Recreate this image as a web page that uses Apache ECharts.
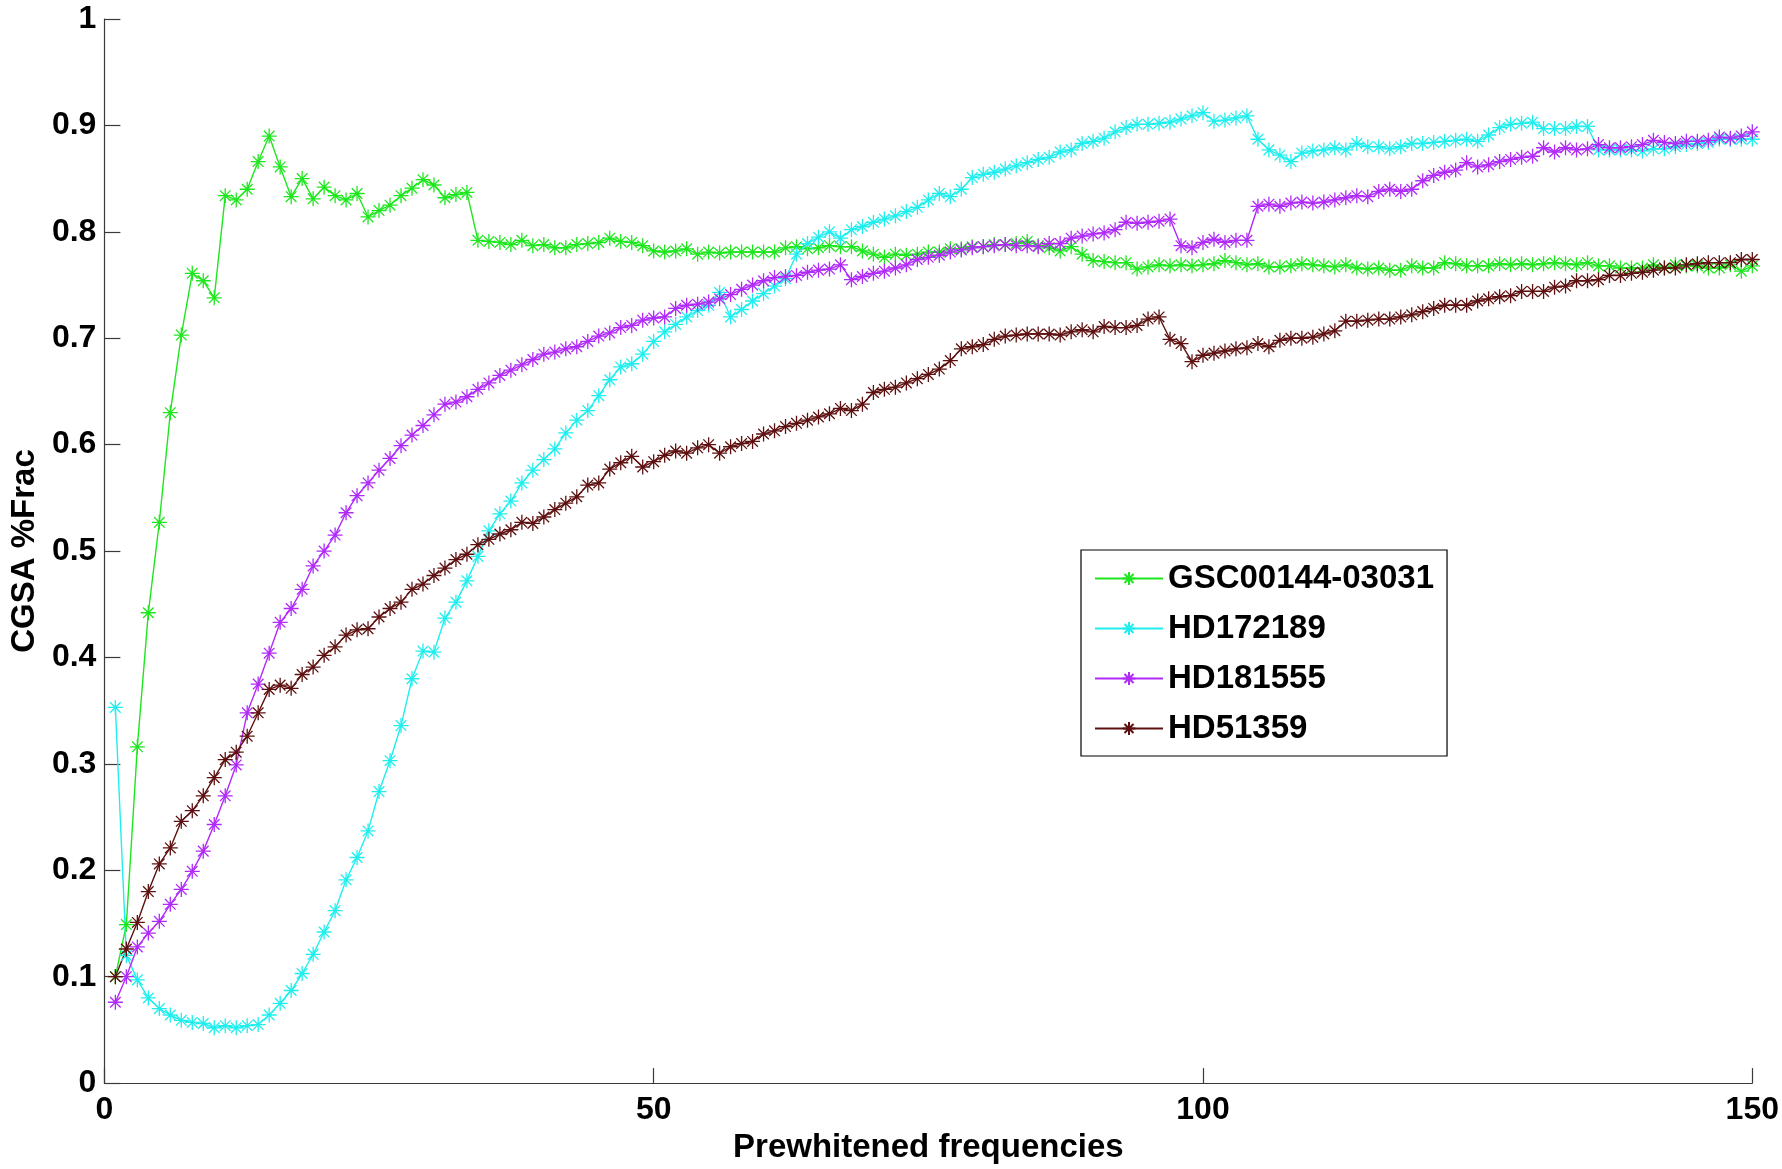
<!DOCTYPE html>
<html>
<head>
<meta charset="utf-8">
<title>CGSA %Frac</title>
<script src="https://cdn.jsdelivr.net/npm/echarts@6/dist/echarts.min.js"></script>
<style>
  html, body { margin: 0; padding: 0; background: #fff; }
  #chart { width: 1782px; height: 1169px; }
</style>
</head>
<body>
<div id="chart"></div>
<script>
// series names as shown in the legend
const names = ['GSC00144-03031', 'HD172189', 'HD181555', 'HD51359'];
const colors = ['#1ee61e', '#20eeee', '#b02af8', '#5e1010'];

// CGSA %Frac per prewhitened frequency (1..150)
const gsc = [
  0.100, 0.149, 0.316, 0.442, 0.527, 0.630, 0.703, 0.761, 0.754, 0.738,
  0.834, 0.830, 0.840, 0.866, 0.890, 0.861, 0.833, 0.850, 0.831, 0.842,
  0.834, 0.830, 0.836, 0.814, 0.820, 0.825, 0.834, 0.841, 0.849, 0.844,
  0.832, 0.835, 0.837, 0.792, 0.791, 0.790, 0.788, 0.792, 0.787, 0.788,
  0.785, 0.785, 0.788, 0.789, 0.790, 0.794, 0.791, 0.790, 0.787, 0.782,
  0.781, 0.782, 0.784, 0.779, 0.781, 0.780, 0.781, 0.781, 0.781, 0.781,
  0.781, 0.785, 0.786, 0.784, 0.785, 0.787, 0.786, 0.786, 0.782, 0.779,
  0.776, 0.779, 0.778, 0.779, 0.781, 0.781, 0.784, 0.784, 0.786, 0.786,
  0.788, 0.788, 0.789, 0.791, 0.787, 0.785, 0.782, 0.786, 0.779, 0.773,
  0.772, 0.771, 0.771, 0.765, 0.767, 0.769, 0.768, 0.769, 0.768, 0.769,
  0.770, 0.773, 0.771, 0.769, 0.770, 0.767, 0.767, 0.768, 0.770, 0.769,
  0.768, 0.767, 0.769, 0.766, 0.765, 0.766, 0.764, 0.764, 0.768, 0.766,
  0.766, 0.771, 0.770, 0.768, 0.768, 0.768, 0.770, 0.769, 0.770, 0.769,
  0.770, 0.771, 0.770, 0.769, 0.771, 0.768, 0.768, 0.766, 0.766, 0.766,
  0.769, 0.766, 0.769, 0.768, 0.768, 0.766, 0.766, 0.769, 0.763, 0.768
];

const hd172189 = [
  0.353, 0.120, 0.097, 0.080, 0.070, 0.064, 0.059, 0.057, 0.056, 0.052,
  0.054, 0.052, 0.054, 0.055, 0.064, 0.075, 0.087, 0.103, 0.121, 0.142,
  0.162, 0.191, 0.212, 0.237, 0.274, 0.303, 0.336, 0.380, 0.406, 0.405,
  0.437, 0.452, 0.472, 0.495, 0.519, 0.535, 0.547, 0.564, 0.576, 0.586,
  0.596, 0.611, 0.623, 0.632, 0.646, 0.661, 0.673, 0.676, 0.685, 0.697,
  0.706, 0.713, 0.720, 0.726, 0.731, 0.743, 0.720, 0.727, 0.735, 0.742,
  0.749, 0.756, 0.779, 0.789, 0.795, 0.800, 0.794, 0.802, 0.805, 0.809,
  0.812, 0.815, 0.819, 0.823, 0.830, 0.836, 0.833, 0.840, 0.851, 0.854,
  0.856, 0.859, 0.862, 0.865, 0.868, 0.870, 0.875, 0.877, 0.883, 0.885,
  0.888, 0.894, 0.898, 0.901, 0.901, 0.902, 0.903, 0.906, 0.909, 0.912,
  0.904, 0.905, 0.907, 0.909, 0.887, 0.877, 0.872, 0.866, 0.874, 0.876,
  0.877, 0.879, 0.877, 0.883, 0.880, 0.880, 0.878, 0.880, 0.883, 0.883,
  0.884, 0.885, 0.886, 0.887, 0.885, 0.891, 0.898, 0.901, 0.902, 0.903,
  0.897, 0.897, 0.897, 0.899, 0.899, 0.877, 0.877, 0.877, 0.877, 0.876,
  0.878, 0.878, 0.880, 0.882, 0.883, 0.884, 0.887, 0.887, 0.887, 0.887
];

const hd181555 = [
  0.076, 0.100, 0.128, 0.141, 0.152, 0.168, 0.182, 0.199, 0.218, 0.243,
  0.270, 0.299, 0.348, 0.375, 0.404, 0.433, 0.446, 0.464, 0.486, 0.500,
  0.515, 0.536, 0.552, 0.564, 0.576, 0.587, 0.599, 0.609, 0.618, 0.628,
  0.638, 0.640, 0.645, 0.652, 0.658, 0.665, 0.670, 0.675, 0.680, 0.685,
  0.687, 0.690, 0.692, 0.697, 0.702, 0.705, 0.710, 0.712, 0.717, 0.719,
  0.720, 0.728, 0.731, 0.732, 0.734, 0.737, 0.741, 0.746, 0.750, 0.754,
  0.757, 0.758, 0.759, 0.762, 0.764, 0.765, 0.769, 0.755, 0.758, 0.761,
  0.763, 0.766, 0.769, 0.774, 0.776, 0.778, 0.781, 0.783, 0.785, 0.786,
  0.787, 0.788, 0.787, 0.787, 0.786, 0.789, 0.789, 0.794, 0.796, 0.798,
  0.799, 0.802, 0.809, 0.808, 0.809, 0.810, 0.812, 0.787, 0.785, 0.790,
  0.793, 0.790, 0.792, 0.792, 0.824, 0.826, 0.824, 0.827, 0.828, 0.827,
  0.828, 0.830, 0.832, 0.834, 0.833, 0.838, 0.840, 0.838, 0.840, 0.848,
  0.853, 0.856, 0.858, 0.865, 0.861, 0.863, 0.866, 0.868, 0.870, 0.871,
  0.879, 0.875, 0.879, 0.877, 0.878, 0.882, 0.879, 0.879, 0.880, 0.882,
  0.886, 0.884, 0.883, 0.885, 0.885, 0.886, 0.889, 0.888, 0.890, 0.894
];

const hd51359 = [
  0.100, 0.126, 0.151, 0.180, 0.206, 0.221, 0.246, 0.256, 0.270, 0.287,
  0.304, 0.311, 0.326, 0.348, 0.370, 0.374, 0.371, 0.384, 0.391, 0.402,
  0.410, 0.421, 0.426, 0.427, 0.438, 0.446, 0.452, 0.464, 0.469, 0.477,
  0.484, 0.492, 0.497, 0.506, 0.511, 0.516, 0.520, 0.527, 0.526, 0.532,
  0.539, 0.545, 0.551, 0.562, 0.564, 0.577, 0.583, 0.589, 0.579, 0.584,
  0.590, 0.594, 0.592, 0.597, 0.600, 0.592, 0.598, 0.601, 0.603, 0.610,
  0.613, 0.617, 0.620, 0.623, 0.626, 0.629, 0.634, 0.632, 0.638, 0.649,
  0.652, 0.654, 0.658, 0.662, 0.666, 0.671, 0.679, 0.690, 0.692, 0.694,
  0.699, 0.702, 0.703, 0.704, 0.704, 0.704, 0.703, 0.706, 0.708, 0.706,
  0.711, 0.710, 0.710, 0.712, 0.718, 0.720, 0.699, 0.695, 0.678, 0.684,
  0.686, 0.688, 0.690, 0.691, 0.695, 0.692, 0.698, 0.700, 0.700, 0.701,
  0.704, 0.707, 0.716, 0.716, 0.717, 0.718, 0.718, 0.720, 0.722, 0.725,
  0.728, 0.731, 0.731, 0.731, 0.735, 0.737, 0.739, 0.740, 0.744, 0.744,
  0.744, 0.748, 0.749, 0.754, 0.754, 0.755, 0.759, 0.759, 0.761, 0.762,
  0.764, 0.766, 0.766, 0.769, 0.770, 0.771, 0.771, 0.771, 0.774, 0.774
];

const xTicks = [0, 50, 100, 150];
const yTicks = [0, 0.1, 0.2, 0.3, 0.4, 0.5, 0.6, 0.7, 0.8, 0.9, 1];

// matlab style '*' marker: plus + cross, stroked only
const STAR = 'path://M0,10L20,10M10,0L10,20M2.93,2.93L17.07,17.07M17.07,2.93L2.93,17.07';
const FONT = '"Liberation Sans", Arial, Helvetica, sans-serif';

const allSeries = [gsc, hd172189, hd181555, hd51359];

const chart = echarts.init(document.getElementById('chart'), null, { renderer: 'canvas' });

chart.setOption({
    animation: false,
    backgroundColor: '#ffffff',
    grid: { left: 102, right: 26, top: 19, bottom: 83, containLabel: false },
    legend: {
        orient: 'vertical',
        left: 1081,
        top: 550,
        padding: [11, 13, 10, 13],
        itemGap: 15,
        itemWidth: 68,
        itemHeight: 16,
        backgroundColor: '#ffffff',
        borderColor: '#000000',
        borderWidth: 1.2,
        borderRadius: 0,
        textStyle: { fontFamily: FONT, fontSize: 33, fontWeight: 'bold', color: '#000', lineHeight: 35 },
        data: names
    },
    xAxis: {
        type: 'value',
        min: xTicks[0],
        max: xTicks[xTicks.length - 1],
        interval: 50,
        name: 'Prewhitened frequencies',
        nameLocation: 'middle',
        nameGap: 46,
        nameTextStyle: { fontFamily: FONT, fontSize: 33, fontWeight: 'bold', color: '#000' },
        axisLine: { show: true, lineStyle: { color: '#3a3a3a', width: 1.2 } },
        axisTick: { show: true, inside: true, length: 15, lineStyle: { color: '#3a3a3a', width: 1.2 } },
        axisLabel: { fontFamily: FONT, fontSize: 32, fontWeight: 'bold', color: '#000', margin: 11,
            showMinLabel: true, showMaxLabel: true },
        splitLine: { show: false }
    },
    yAxis: {
        type: 'value',
        min: yTicks[0],
        max: yTicks[yTicks.length - 1],
        interval: 0.1,
        name: 'CGSA %Frac',
        nameLocation: 'middle',
        nameGap: 62,
        nameTextStyle: { fontFamily: FONT, fontSize: 33, fontWeight: 'bold', color: '#000' },
        axisLine: { show: true, lineStyle: { color: '#3a3a3a', width: 1.2 } },
        axisTick: { show: true, inside: true, length: 16, lineStyle: { color: '#3a3a3a', width: 1.2 } },
        axisLabel: {
            fontFamily: FONT, fontSize: 32, fontWeight: 'bold', color: '#000', margin: 8,
            showMinLabel: true, showMaxLabel: true,
            formatter: v => String(Math.round(v * 10) / 10)
        },
        splitLine: { show: false }
    },
    series: allSeries.map((vals, k) => ({
        name: names[k],
        type: 'line',
        data: vals.map((v, i) => [i + 1, v]),
        symbol: STAR,
        symbolSize: 15,
        showSymbol: true,
        lineStyle: { color: colors[k], width: 1.4 },
        itemStyle: { color: colors[k], borderColor: colors[k], borderWidth: 1.3 },
        emphasis: { disabled: true }
    }))
});
</script>
</body>
</html>
